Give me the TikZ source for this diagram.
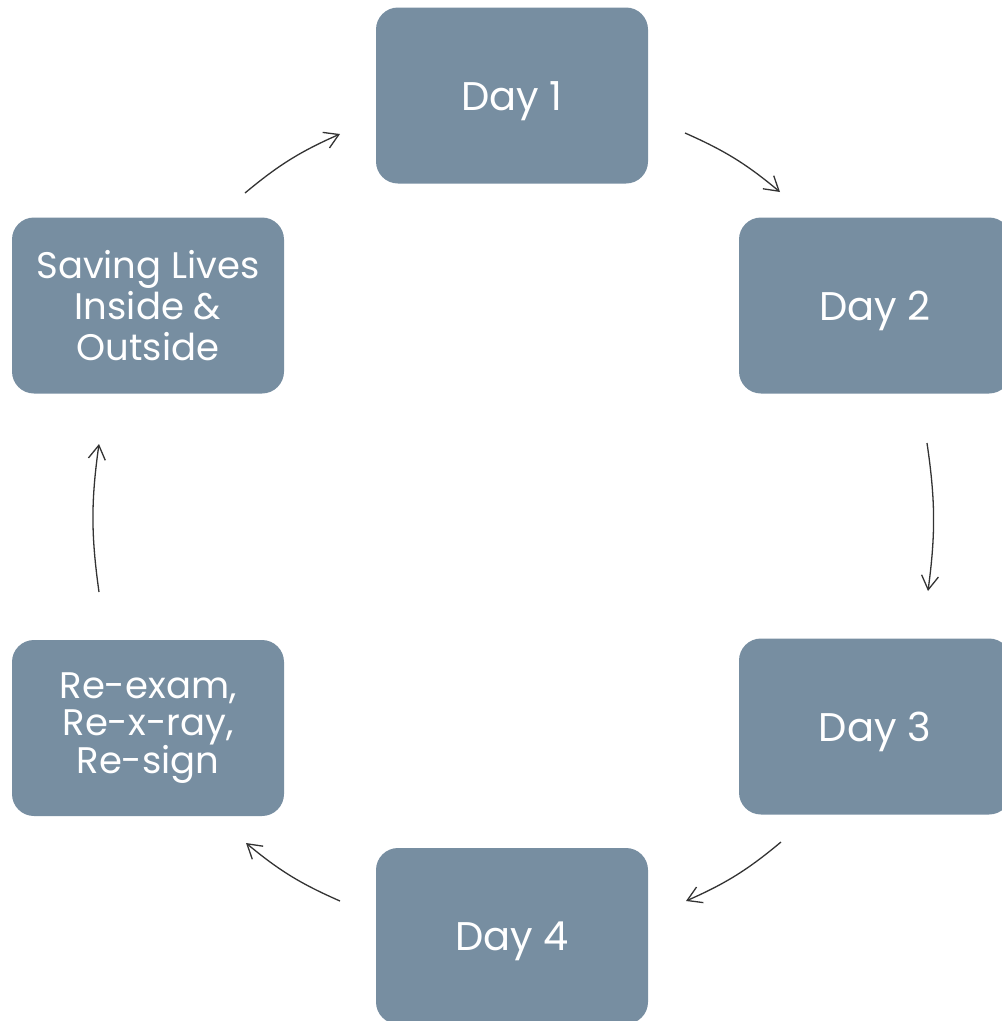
\documentclass[tikz,border=0pt]{standalone}
\usepackage{fontspec}
\setmainfont{Poppins}
\usetikzlibrary{arrows.meta}
\definecolor{boxfill}{HTML}{778EA1}
\definecolor{arrowc}{HTML}{333333}
\tikzset{
  stepbox/.style={fill=boxfill, draw=none, rounded corners=22pt, minimum width=272pt, minimum height=176pt, inner sep=0pt, text=white, align=center},
  daytext/.style={font=\fontsize{40}{46}\selectfont, text height=29pt, text depth=0pt},
  multitext/.style={font=\fontsize{37}{41}\selectfont},
  flow/.style={draw=arrowc, line width=1.3pt, -{Straight Barb[length=14pt,width=17pt]}, bend left=8}
}
\begin{document}
\begin{tikzpicture}[x=1pt,y=-1pt]
\useasboundingbox (0,0) rectangle (1002,1021);
\clip (0,0) rectangle (1002,1021);
\node[stepbox, daytext] (d1) at (512,95.5) {Day 1};
\node[stepbox, daytext] (d2) at (875,305.5) {Day 2};
\node[stepbox, daytext] (d3) at (875,726.5) {Day 3};
\node[stepbox, daytext] (d4) at (512,936) {Day 4};
\node[stepbox, multitext, font=\fontsize{37}{37}\selectfont] (re) at (148,728) {Re-exam,\\Re-x-ray,\\Re-sign};
\node[stepbox, multitext] (sv) at (148,305.5) {Saving Lives\\Inside \&\\Outside};
% arrow end points
\coordinate (a1s) at (685,133);
\coordinate (a1e) at (780,192);
\coordinate (a2s) at (927,443);
\coordinate (a2e) at (928,591);
\coordinate (a3s) at (781,842);
\coordinate (a3e) at (686,901);
\coordinate (a4s) at (340,901);
\coordinate (a4e) at (246,843);
\coordinate (a5s) at (99,592);
\coordinate (a5e) at (99,444);
\coordinate (a6s) at (245,193);
\coordinate (a6e) at (340,134);
\draw[flow] (a1s) to (a1e);
\draw[flow] (a2s) to (a2e);
\draw[flow] (a3s) to (a3e);
\draw[flow] (a4s) to (a4e);
\draw[flow] (a5s) to (a5e);
\draw[flow] (a6s) to (a6e);
\end{tikzpicture}
\end{document}
